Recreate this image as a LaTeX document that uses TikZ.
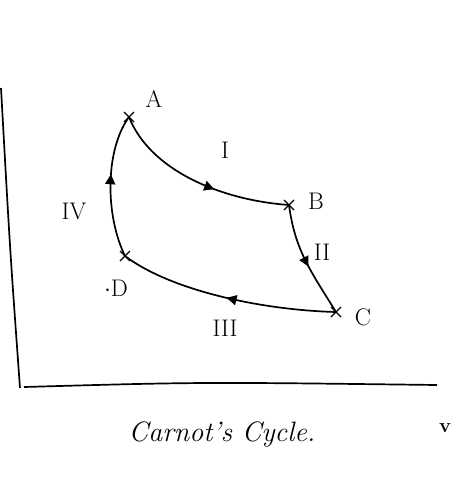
\documentclass[tikz,border=0pt]{standalone}
\usetikzlibrary{decorations.markings,arrows.meta,calc}
\tikzset{
  curve/.style={line width=1.7pt, line cap=round},
  axis/.style={line width=1.7pt},
  lbl/.style={font=\fontsize{24}{28}\selectfont},
  num/.style={font=\fontsize{24}{28}\selectfont},
  midarrow/.style={postaction={decorate},decoration={markings,mark=at position #1 with {\arrow{Triangle[length=10pt,width=10pt]}}}},
  crossmark/.style={line width=1.2pt}
}
\begin{document}
\begin{tikzpicture}[x=1pt,y=-1pt]
\useasboundingbox (0,0) rectangle (457,490);
% state points
\coordinate (A) at (129,117);
\coordinate (B) at (289,205);
\coordinate (C) at (336,312);
\coordinate (D) at (125,256);
% axes
\coordinate (yt) at (1,88);
\coordinate (o) at (20,388);
\coordinate (xe) at (437,385);
\draw[axis] (yt) .. controls (10,250) .. (o);
\draw[axis] (24,387) .. controls (200,382) .. (xe);
% process curves
\draw[curve, midarrow=0.6] (A) .. controls (150,170) and (220,200) .. (B);
\draw[curve, midarrow=0.55] (B) .. controls (295,250) and (310,270) .. (C);
\draw[curve, midarrow=0.5] (C) .. controls (260,310) and (170,290) .. (D);
\draw[curve, midarrow=0.58] (D) .. controls (105,215) and (105,150) .. (A);
% crosses at states
\foreach \p in {A,B,C,D}{
  \draw[crossmark] ($(\p)+(-5,-5)$) -- ($(\p)+(5,5)$);
  \draw[crossmark] ($(\p)+(-5,5)$) -- ($(\p)+(5,-5)$);
}
% labels
\node[lbl] (lA) at (154,99) {A};
\node[lbl] (lB) at (316,201) {B};
\node[lbl] (lC) at (363,317) {C};
\node[lbl] (lD) at (116,288) {$\cdot$D};
\node[num] (n1) at (225,150) {I};
\node[num] (n2) at (322,252) {II};
\node[num] (n3) at (225,328) {III};
\node[num] (n4) at (74,211) {IV};
\node[font=\fontsize{20}{24}\selectfont\bfseries] (lV) at (445,428) {v};
\node[font=\fontsize{28}{32}\selectfont\itshape] (title) at (222,434) {Carnot's Cycle.};
\end{tikzpicture}
\end{document}
